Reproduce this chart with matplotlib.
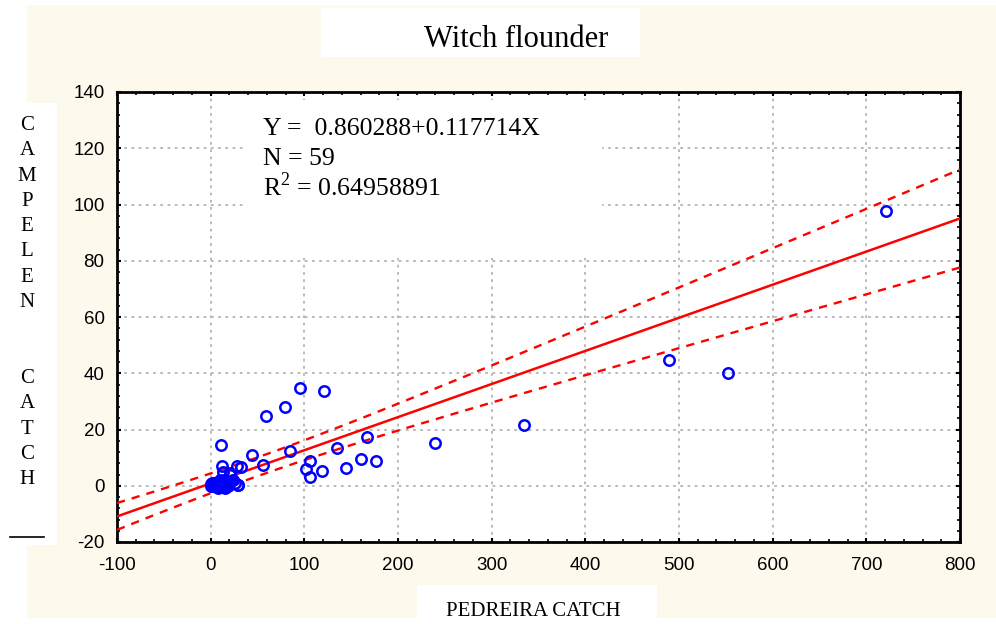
import matplotlib
matplotlib.use("Agg")
import matplotlib.pyplot as plt
import numpy as np
from matplotlib.patches import Rectangle
from matplotlib.ticker import MultipleLocator, AutoMinorLocator

plt.rcParams['mathtext.fontset'] = 'custom'
plt.rcParams['mathtext.rm'] = 'Liberation Serif'
plt.rcParams['axes.unicode_minus'] = False

# data (Pedreira catch vs Campelen catch)
pedreira = [721, 489, 552, 335, 240, 95, 121, 59, 79, 11, 85, 44, 167, 135,
            56, 12, 28, 32, 106, 102, 106, 119, 145, 160, 177, 2.5, 10, 15,
            20.5, 29, 13, 8, 1, 4.5, 10, 13.5, 20.5, 15, 29.5, 7.5, 20.5,
            0, 0, 2, 4, 6, 3, 5, 9, 1, 7, 17, 24, 19, 11, 14, 26, 18]
campelen = [97.7, 44.7, 40.1, 21.6, 15.2, 34.6, 33.7, 24.8, 28.1, 14.4, 12.3,
            10.9, 17.3, 13.4, 7.3, 7.0, 7.0, 6.7, 8.8, 5.9, 3.1, 5.2, 6.3,
            9.5, 8.8, 0.6, 2.0, 0.9, 4.5, 0.3, 4.9, -0.4, 0.9, 0.3, 1.4,
            -0.3, 1.4, -0.9, 0.3, -0.9, 3.8,
            0, 0.5, 0, 1, 0, 0.5, 0, 1, 0, 0.5, 1, 2, 0.5, 1, 2, 1, 0]

# regression and 95% band stats
b0 = 0.860288
b1 = 0.117714
n_obs = 59
r2 = 0.64958891
ci_t = 2.0
ci_se = 12.8
ci_xmean = 50.0
ci_sxx = 1.26e6

xlim = (-100, 800)
ylim = (-20, 140)

fig = plt.figure(figsize=(9.96, 6.24), dpi=100)
fig.patch.set_facecolor('white')
W, H = 996.0, 624.0

def fbox(x0, y0, x1, y1, color):
    # pixel box -> figure fraction
    fig.patches.append(Rectangle((x0 / W, 1 - y1 / H), (x1 - x0) / W, (y1 - y0) / H,
                                 transform=fig.transFigure, facecolor=color,
                                 edgecolor='none', zorder=-5))

fbox(27, 5, 996, 618, '#fdf9ed')
fbox(321, 8, 640, 57, 'white')
fbox(0, 103, 57, 545, 'white')
fbox(417, 585, 657, 624, 'white')

ax = fig.add_axes([117 / W, 1 - 542 / H, (960 - 117) / W, (542 - 92) / H])
ax.set_facecolor('white')
ax.set_axisbelow(True)

xs = np.linspace(xlim[0], xlim[1], 200)
fit = b0 + b1 * xs
hw = ci_t * ci_se * np.sqrt(1.0 / n_obs + (xs - ci_xmean) ** 2 / ci_sxx)
ax.plot(xs, fit, color='red', lw=1.8, zorder=3)
ax.plot(xs, fit + hw, color='red', lw=1.7, ls=(0, (3.5, 3)), zorder=3)
ax.plot(xs, fit - hw, color='red', lw=1.7, ls=(0, (3.5, 3)), zorder=3)

ax.plot(pedreira, campelen, 'o', mfc='none', mec='#0000ff', mew=1.8, ms=7.5,
        zorder=4, clip_on=False)

ax.set_xlim(*xlim)
ax.set_ylim(*ylim)
ax.xaxis.set_major_locator(MultipleLocator(100))
ax.yaxis.set_major_locator(MultipleLocator(20))
ax.xaxis.set_minor_locator(AutoMinorLocator(5))
ax.yaxis.set_minor_locator(AutoMinorLocator(5))
ax.grid(True, which='major', color='#b4b4b4', ls=(0, (1.5, 2.5)), lw=1.3)
ax.tick_params(which='both', direction='in', top=True, right=True, colors='black')
ax.tick_params(which='major', length=3, width=1.5, labelsize=13.5)
ax.tick_params(axis='x', which='major', pad=11)
ax.tick_params(axis='y', which='major', pad=9)
ax.tick_params(which='minor', length=2, width=1.2)
for lab in ax.get_xticklabels() + ax.get_yticklabels():
    lab.set_fontfamily('Liberation Sans')
for s in ax.spines.values():
    s.set_linewidth(2)

# white box behind the equation text
ax.add_patch(Rectangle((0.149, 0.631), 0.426, 0.351, transform=ax.transAxes,
                       facecolor='white', edgecolor='none', zorder=1))
tfont = dict(family='Liberation Serif', size=18.5, color='black', zorder=5)
ax.text(0.173, 0.904, 'Y =  %.6f+%.6fX' % (b0, b1), transform=ax.transAxes, **tfont)
ax.text(0.173, 0.838, 'N = %d' % n_obs, transform=ax.transAxes, **tfont)
ax.text(0.173, 0.769, 'R$^{\\mathrm{2}}$ = %.8f' % r2, transform=ax.transAxes, **tfont)

fig.text(516 / W, 1 - 47 / H, 'Witch flounder', ha='center', va='baseline',
         family='Liberation Serif', size=22)
fig.text(533 / W, 1 - 616 / H, 'PEDREIRA CATCH', ha='center', va='baseline',
         family='Liberation Serif', size=15)
fig.text(27 / W, 1 - 116 / H, 'C\nA\nM\nP\nE\nL\nE\nN\n\n\nC\nA\nT\nC\nH',
         ha='center', va='top', family='Liberation Serif', size=15, linespacing=1.45)
fig.add_artist(plt.Line2D([10 / W, 44 / W], [1 - 537 / H, 1 - 537 / H],
                          color='black', lw=1.2, transform=fig.transFigure))

fig.savefig('out.png', dpi=100, facecolor=fig.get_facecolor())
